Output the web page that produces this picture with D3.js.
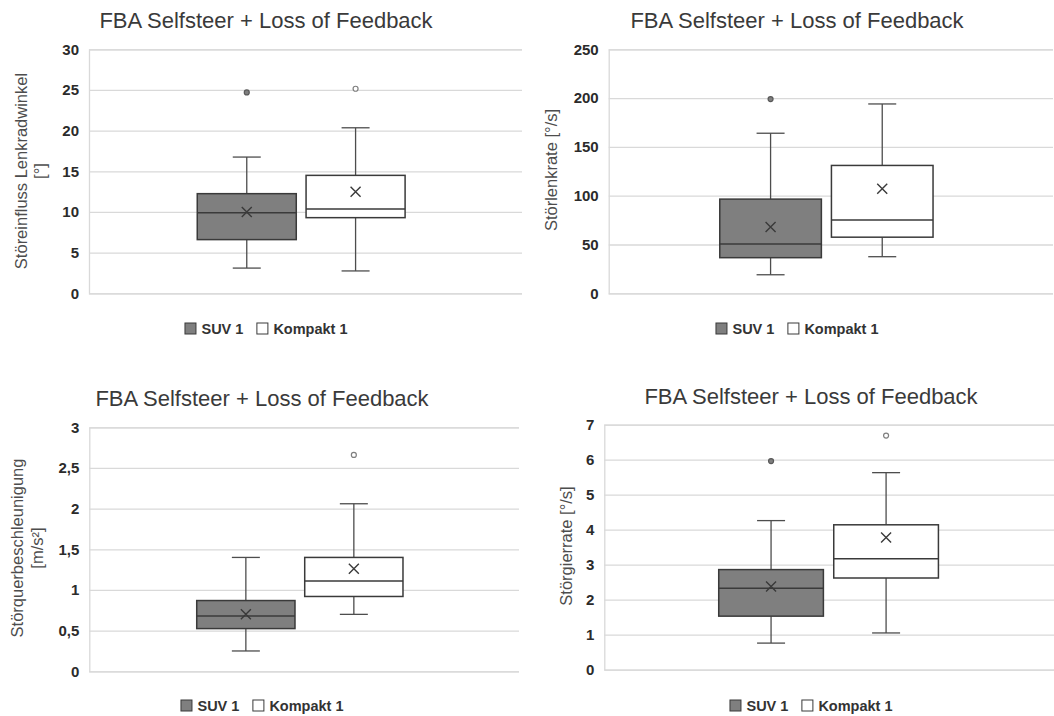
<!DOCTYPE html>
<html>
<head>
<meta charset="utf-8">
<script src="https://cdn.jsdelivr.net/npm/d3@7"></script>
<style>
  body { margin: 0; background: #fff; }
  svg { display: block; font-family: Arial, "Liberation Sans", sans-serif; }
</style>
</head>
<body>
<svg id="chart" width="1054" height="716"></svg>
<script>
// series (legend entries)
var series = [ "SUV 1", "Kompakt 1" ];
var seriesFill = [ "#7f7f7f", "#ffffff" ];

var chartTitle = "FBA Selfsteer + Loss of Feedback";

// box stats per series: [lower whisker, Q1, median, Q3, upper whisker]
var winkelStats = [ [ 3.1, 6.6, 9.9, 12.25, 16.75 ], [ 2.75, 9.3, 10.35, 14.5, 20.35 ] ];
var winkelMeans = [ 10.0, 12.5 ];
var winkelOutliers = [ [ 24.7 ], [ 25.15 ] ];
var winkelTicks = [ 0, 5, 10, 15, 20, 25, 30 ];

var lenkrateStats = [ [ 19, 36.5, 50.5, 96.5, 164 ], [ 37.5, 57.5, 75, 131, 194 ] ];
var lenkrateMeans = [ 68, 107 ];
var lenkrateOutliers = [ [ 199 ], [] ];
var lenkrateTicks = [ 0, 50, 100, 150, 200, 250 ];

var querStats = [ [ 0.25, 0.525, 0.68, 0.87, 1.4 ], [ 0.7, 0.92, 1.11, 1.4, 2.06 ] ];
var querMeans = [ 0.7, 1.26 ];
var querOutliers = [ [], [ 2.66 ] ];
var querTicks = [ 0, 0.5, 1, 1.5, 2, 2.5, 3 ];

var gierStats = [ [ 0.76, 1.53, 2.33, 2.86, 4.26 ], [ 1.05, 2.62, 3.17, 4.14, 5.63 ] ];
var gierMeans = [ 2.38, 3.78 ];
var gierOutliers = [ [ 5.96 ], [ 6.69 ] ];
var gierTicks = [ 0, 1, 2, 3, 4, 5, 6, 7 ];

var svg = d3.select( "#chart" );

var de = d3.formatLocale( { decimal: ",", thousands: ".", grouping: [ 3 ], currency: [ "", " €" ] } );
var fmt = de.format( "~g" );

// panel layout
var panels = [
  { stats: winkelStats, means: winkelMeans, outliers: winkelOutliers, ticks: winkelTicks,
    left: 89, right: 522, top: 49.3, bottom: 293.3, cx: 266, titleY: 28, legendY: 329,
    yTitle: [ "Störeinfluss Lenkradwinkel", "[°]" ], yTitleX: [ 27, 46 ], yTitleCY: 171 },
  { stats: lenkrateStats, means: lenkrateMeans, outliers: lenkrateOutliers, ticks: lenkrateTicks,
    left: 608.7, right: 1053, top: 49.3, bottom: 293.3, cx: 797, titleY: 28, legendY: 329,
    yTitle: [ "Störlenkrate [°/s]" ], yTitleX: [ 557 ], yTitleCY: 170 },
  { stats: querStats, means: querMeans, outliers: querOutliers, ticks: querTicks,
    left: 89.3, right: 519, top: 427.3, bottom: 671.3, cx: 262, titleY: 406, legendY: 706,
    yTitle: [ "Störquerbeschleunigung", "[m/s²]" ], yTitleX: [ 23, 43 ], yTitleCY: 548 },
  { stats: gierStats, means: gierMeans, outliers: gierOutliers, ticks: gierTicks,
    left: 604.3, right: 1062, top: 424.7, bottom: 669.7, cx: 811, titleY: 404, legendY: 706,
    yTitle: [ "Störgierrate [°/s]" ], yTitleX: [ 572 ], yTitleCY: 546 }
];

panels.forEach( drawPanel );

function drawPanel( p ) {
  var w = p.right - p.left;
  var y = d3.scaleLinear()
    .domain( [ 0, p.ticks[ p.ticks.length - 1 ] ] )
    .range( [ p.bottom, p.top ] );
  var x = d3.scaleBand()
    .domain( series )
    .range( [ p.left + 0.25 * w, p.right - 0.27 * w ] )
    .paddingInner( 0.09 );

  var g = svg.append( "g" );

  // gridlines
  g.append( "g" )
    .attr( "transform", "translate(" + p.left + ",0)" )
    .call( d3.axisLeft( y ).tickValues( p.ticks ).tickSize( -w ).tickFormat( "" ) )
    .call( function ( a ) {
      a.select( ".domain" ).attr( "stroke", "#d9d9d9" ).attr( "stroke-width", 1.3 );
      a.selectAll( ".tick line" ).attr( "stroke", "#d9d9d9" ).attr( "stroke-width", 1.3 );
    } );

  // tick labels
  g.append( "g" )
    .attr( "transform", "translate(" + p.left + ",0)" )
    .call( d3.axisLeft( y ).tickValues( p.ticks ).tickSize( 0 ).tickPadding( 10 ).tickFormat( fmt ) )
    .call( function ( a ) {
      a.select( ".domain" ).remove();
      a.selectAll( "text" )
        .attr( "fill", "#2b2b2b" )
        .attr( "font-size", "15px" )
        .attr( "font-weight", "bold" )
        .attr( "font-family", "Arial, 'Liberation Sans', sans-serif" );
    } );

  // title
  g.append( "text" )
    .attr( "x", p.cx )
    .attr( "y", p.titleY )
    .attr( "text-anchor", "middle" )
    .attr( "font-size", "22px" )
    .attr( "fill", "#3a3a3a" )
    .text( chartTitle );

  // y axis title
  p.yTitle.forEach( function ( line, i ) {
    g.append( "text" )
      .attr( "transform", "translate(" + p.yTitleX[ i ] + "," + p.yTitleCY + ") rotate(-90)" )
      .attr( "text-anchor", "middle" )
      .attr( "font-size", "16.5px" )
      .attr( "fill", "#4d4d4d" )
      .text( line );
  } );

  // boxes
  series.forEach( function ( s, i ) {
    var st = p.stats[ i ];
    var bx = x( s );
    var bw = x.bandwidth();
    var cx = bx + bw / 2;
    var bg = g.append( "g" );

    // whiskers
    bg.append( "line" )
      .attr( "x1", cx ).attr( "x2", cx )
      .attr( "y1", y( st[ 0 ] ) ).attr( "y2", y( st[ 1 ] ) )
      .attr( "stroke", "#4d4d4d" ).attr( "stroke-width", 1.3 );
    bg.append( "line" )
      .attr( "x1", cx ).attr( "x2", cx )
      .attr( "y1", y( st[ 3 ] ) ).attr( "y2", y( st[ 4 ] ) )
      .attr( "stroke", "#4d4d4d" ).attr( "stroke-width", 1.3 );
    [ st[ 0 ], st[ 4 ] ].forEach( function ( v ) {
      bg.append( "line" )
        .attr( "x1", cx - 14 ).attr( "x2", cx + 14 )
        .attr( "y1", y( v ) ).attr( "y2", y( v ) )
        .attr( "stroke", "#4d4d4d" ).attr( "stroke-width", 1.3 );
    } );

    // box
    bg.append( "rect" )
      .attr( "x", bx )
      .attr( "y", y( st[ 3 ] ) )
      .attr( "width", bw )
      .attr( "height", y( st[ 1 ] ) - y( st[ 3 ] ) )
      .attr( "fill", seriesFill[ i ] )
      .attr( "stroke", "#3a3a3a" )
      .attr( "stroke-width", 1.5 );

    // median
    bg.append( "line" )
      .attr( "x1", bx ).attr( "x2", bx + bw )
      .attr( "y1", y( st[ 2 ] ) ).attr( "y2", y( st[ 2 ] ) )
      .attr( "stroke", "#3a3a3a" ).attr( "stroke-width", 1.5 );

    // mean marker
    var my = y( p.means[ i ] );
    bg.append( "path" )
      .attr( "d", "M" + ( cx - 5 ) + "," + ( my - 5 ) + "L" + ( cx + 5 ) + "," + ( my + 5 ) +
        "M" + ( cx - 5 ) + "," + ( my + 5 ) + "L" + ( cx + 5 ) + "," + ( my - 5 ) )
      .attr( "stroke", "#3a3a3a" ).attr( "stroke-width", 1.4 ).attr( "fill", "none" );

    // outliers
    p.outliers[ i ].forEach( function ( v ) {
      bg.append( "circle" )
        .attr( "cx", cx ).attr( "cy", y( v ) )
        .attr( "r", 2.5 )
        .attr( "fill", i === 0 ? "#7f7f7f" : "#ffffff" )
        .attr( "stroke", i === 0 ? "#595959" : "#7f7f7f" )
        .attr( "stroke-width", 1.2 );
    } );
  } );

  // legend
  var lg = g.append( "g" );
  var lx = 0;
  series.forEach( function ( s, i ) {
    lg.append( "rect" )
      .attr( "x", lx + 0.5 ).attr( "y", -6 )
      .attr( "width", 11 ).attr( "height", 11 )
      .attr( "fill", seriesFill[ i ] )
      .attr( "stroke", "#3a3a3a" ).attr( "stroke-width", 1 );
    var t = lg.append( "text" )
      .attr( "x", lx + 17 ).attr( "y", 5 )
      .attr( "font-size", "14.5px" )
      .attr( "font-weight", "bold" )
      .attr( "fill", "#333333" )
      .text( s );
    lx += 17 + t.node().getComputedTextLength() + 13;
  } );
  var lw = lx - 13;
  lg.attr( "transform", "translate(" + ( p.cx - lw / 2 ) + "," + p.legendY + ")" );
}
</script>
</body>
</html>
